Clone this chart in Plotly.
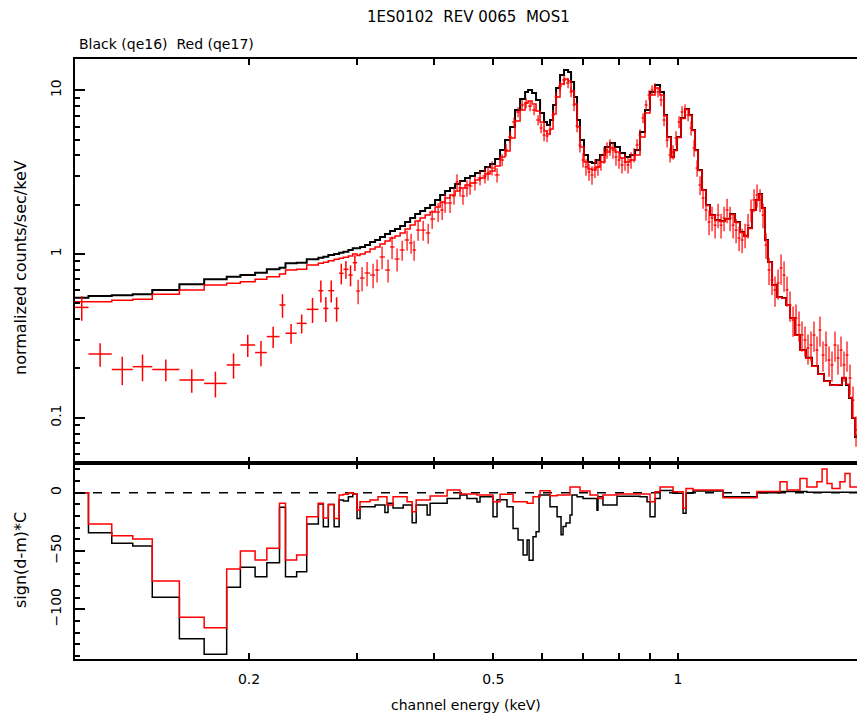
import numpy as np
import plotly.graph_objects as go

# ---------------- data ----------------
# coarse low-energy channel groups (keV): left edges + final edge
coarse_edges = [0.1041, 0.1095, 0.1195, 0.1293, 0.1391, 0.1540, 0.1690, 0.1839, 0.1936, 0.2046,
                0.2138, 0.2242, 0.2293, 0.2391, 0.2483, 0.2594, 0.2643, 0.2693, 0.2752, 0.2804,
                0.2850, 0.2903, 0.2951, 0.2999]
coarse_black_model = [0.541, 0.554, 0.559, 0.567, 0.603, 0.653, 0.700, 0.726, 0.744, 0.769,
                      0.806, 0.825, 0.877, 0.885, 0.928, 0.950, 0.963, 0.986, 1.000, 1.019,
                      1.033, 1.058, 1.083]
coarse_red_model = [0.511, 0.511, 0.521, 0.529, 0.567, 0.603, 0.647, 0.662, 0.677, 0.700,
                    0.726, 0.755, 0.798, 0.806, 0.857, 0.877, 0.889, 0.910, 0.928, 0.941,
                    0.955, 0.972, 1.000]
coarse_red_data = [0.472, 0.245, 0.197, 0.205, 0.197, 0.170, 0.162, 0.210, 0.278, 0.250,
                   0.313, 0.488, 0.328, 0.377, 0.459, 0.597, 0.465, 0.597, 0.465, 0.762,
                   0.806, 0.744, 0.885]
coarse_red_err = [0.081, 0.040, 0.039, 0.038, 0.030, 0.028, 0.029, 0.037, 0.043, 0.044,
                  0.046, 0.080, 0.045, 0.050, 0.080, 0.092, 0.081, 0.092, 0.079, 0.110,
                  0.099, 0.109, 0.097]
coarse_black_resid = [0, -34.3, -43.4, -45.7, -89.7, -125.2, -138.6, -81.1, -64.0, -72.0,
                      -60.0, -12.5, -72.0, -67.7, -26.8, -9.7, -29.2, -10.0, -29.2, -6.3,
                      -7.0, -3.4, -1.0]
coarse_red_resid = [0, -26.8, -36.9, -39.7, -75.7, -106.9, -115.8, -65.4, -50.0, -57.7,
                    -47.7, -9.1, -57.7, -53.4, -20.6, -9.1, -21.7, -10.0, -22.0, -2.0,
                    -1.4, 0.0, -1.0]

# fine channels above 0.3 keV: model left edges and values
fine_edges = [0.2999, 0.3033, 0.3091, 0.3149, 0.3209, 0.3269, 0.3331, 0.3395, 0.3458, 0.3525,
              0.3591, 0.3660, 0.3729, 0.3800, 0.3872, 0.3945, 0.4019, 0.4096, 0.4173, 0.4251,
              0.4333, 0.4413, 0.4497, 0.4582, 0.4669, 0.4757, 0.4848, 0.4939, 0.5033, 0.5129,
              0.5226, 0.5325, 0.5425, 0.5529, 0.5634, 0.5697, 0.5783, 0.5870, 0.5959, 0.6049,
              0.6117, 0.6186, 0.6257, 0.6328, 0.6423, 0.6520, 0.6619, 0.6694, 0.6770, 0.6846,
              0.6922, 0.7027, 0.7133, 0.7241, 0.7350, 0.7461, 0.7602, 0.7746, 0.7894, 0.8043,
              0.8196, 0.8351, 0.8509, 0.8671, 0.8835, 0.9002, 0.9173, 0.9347, 0.9488, 0.9596,
              0.9741, 0.9851, 0.9963, 1.0113, 1.0266, 1.0421, 1.0539, 1.0659, 1.0779, 1.0942,
              1.1107, 1.1275, 1.1490, 1.1707, 1.1929, 1.2155, 1.2384, 1.2618, 1.2810, 1.3002,
              1.3200, 1.3398, 1.3550, 1.3704, 1.3858, 1.4015, 1.4228, 1.4497, 1.4770, 1.4993,
              1.5221, 1.5508, 1.5801, 1.6158, 1.6527, 1.6904, 1.7291, 1.7684, 1.8087, 1.8499,
              1.8780, 1.8993, 1.9208, 1.9424]
last_edge = 1.98
fine_black_model = [1.083, 1.104, 1.135, 1.184, 1.218, 1.270, 1.325, 1.382, 1.421, 1.483,
                    1.569, 1.659, 1.755, 1.831, 1.910, 1.993, 2.138, 2.293, 2.426, 2.530,
                    2.677, 2.792, 2.912, 2.996, 3.125, 3.214, 3.400, 3.546, 3.805, 4.318,
                    4.970, 5.969, 7.580, 8.850, 9.763, 10.04, 9.627, 8.725, 7.265, 6.404,
                    6.138, 6.586, 8.133, 10.33, 12.40, 13.30, 12.93, 11.24, 9.100, 6.586,
                    4.970, 4.025, 3.648, 3.597, 3.752, 4.025, 4.504, 4.765, 4.504, 4.140,
                    3.913, 4.025, 4.318, 5.564, 7.580, 9.763, 10.78, 9.763, 7.066, 5.185,
                    3.913, 4.318, 5.185, 6.774, 7.688, 7.066, 5.722, 4.318, 3.261, 2.460,
                    1.993, 1.731, 1.613, 1.591, 1.636, 1.755, 1.569, 1.362, 1.288, 1.441,
                    1.857, 2.138, 2.326, 1.910, 1.218, 0.894, 0.647, 0.546, 0.539, 0.488,
                    0.406, 0.320, 0.259, 0.232, 0.207, 0.185, 0.1675, 0.1584, 0.1584, 0.1748,
                    0.1584, 0.1319, 0.0996, 0.0762]
fine_red_model = [0.980, 1.000, 1.029, 1.073, 1.104, 1.151, 1.200, 1.252, 1.288, 1.344,
                  1.421, 1.504, 1.591, 1.659, 1.731, 1.805, 1.937, 2.078, 2.198, 2.293,
                  2.426, 2.530, 2.640, 2.715, 2.832, 2.912, 3.081, 3.214, 3.448, 3.913,
                  4.258, 5.113, 6.494, 7.580, 8.362, 8.603, 8.250, 7.474, 6.404, 5.641,
                  5.410, 5.802, 7.166, 9.100, 10.93, 11.72, 11.40, 9.902, 8.250, 5.969,
                  4.504, 3.648, 3.305, 3.261, 3.400, 3.648, 4.198, 4.441, 4.198, 3.858,
                  3.648, 3.752, 4.025, 5.185, 7.265, 9.36, 10.33, 9.36, 7.00, 5.15,
                  3.89, 4.29, 5.15, 6.73, 7.64, 7.02, 5.69, 4.29, 3.24, 2.45,
                  1.98, 1.72, 1.60, 1.58, 1.63, 1.74, 1.56, 1.355, 1.28, 1.43,
                  1.85, 2.13, 2.31, 1.90, 1.21, 0.89, 0.645, 0.545, 0.537, 0.487,
                  0.405, 0.319, 0.258, 0.231, 0.206, 0.184, 0.167, 0.158, 0.159, 0.176,
                  0.160, 0.133, 0.100, 0.078]

# red (qe17) data points above 0.3 keV
red_E = [0.3011, 0.3056, 0.3114, 0.3185, 0.3233, 0.3294, 0.3369, 0.3420, 0.3485, 0.3552,
         0.3618, 0.3673, 0.3715, 0.3771, 0.3843, 0.3916, 0.3975, 0.4065, 0.4127, 0.4173,
         0.4251, 0.4315, 0.4364, 0.4413, 0.4463, 0.4530, 0.4582, 0.4668, 0.4757, 0.4847,
         0.4902, 0.4976, 0.5071, 0.5168, 0.5245, 0.5325, 0.5405, 0.5487, 0.5571, 0.5655,
         0.5740, 0.5827, 0.5915, 0.5982, 0.6049, 0.6117, 0.6186, 0.6257, 0.6328, 0.6423,
         0.6520, 0.6619, 0.6694, 0.6770, 0.6846, 0.6922, 0.7001, 0.7080, 0.7160, 0.7241,
         0.7322, 0.7405, 0.7489, 0.7574, 0.7660, 0.7746, 0.7834, 0.7923, 0.8013, 0.8104,
         0.8196, 0.8289, 0.8383, 0.8478, 0.8574, 0.8671, 0.8769, 0.8869, 0.8969, 0.9071,
         0.9173, 0.9277, 0.9382, 0.9488, 0.9596, 0.9704, 0.9814, 0.9925, 1.0038, 1.0151,
         1.0266, 1.0383, 1.0500, 1.0619, 1.0740, 1.0860, 1.0984, 1.1107, 1.1233, 1.1360,
         1.1490, 1.1620, 1.1751, 1.1884, 1.2019, 1.2155, 1.2293, 1.2432, 1.2573, 1.2716,
         1.2858, 1.3002, 1.3150, 1.3299, 1.3449, 1.3600, 1.3756, 1.3910, 1.4068, 1.4228,
         1.4388, 1.4552, 1.4716, 1.4883, 1.5051, 1.5221, 1.5394, 1.5567, 1.5743, 1.5921,
         1.6100, 1.6283, 1.6467, 1.6653, 1.6842, 1.7031, 1.7225, 1.7420, 1.7618, 1.7817,
         1.8019, 1.8223, 1.8429, 1.8638, 1.8849, 1.9063, 1.9278, 1.9497]
red_val = [0.594, 0.713, 0.765, 0.744, 0.798, 0.959, 0.798, 1.104, 0.932, 1.058,
           1.218, 1.167, 1.058, 1.40, 1.40, 1.344, 1.636, 1.805, 1.857, 2.049,
           2.049, 2.261, 2.754, 2.530, 2.261, 2.530, 2.603, 2.715, 2.912, 2.996,
           3.125, 3.353, 3.04, 3.75, 4.318, 5.185, 6.404, 7.37, 8.133, 8.362,
           8.017, 7.58, 6.586, 5.886, 5.33, 5.258, 5.722, 7.066, 9.100, 10.62,
           11.56, 11.08, 9.763, 8.133, 6.052, 4.63, 3.75, 3.400, 3.169, 3.04,
           3.353, 3.400, 3.648, 4.025, 4.318, 4.504, 4.318, 3.913, 3.75, 3.50,
           3.648, 3.50, 3.75, 4.025, 4.63, 5.33, 6.774, 8.133, 9.36, 10.04,
           10.33, 9.763, 8.725, 6.586, 4.970, 4.025, 4.198, 5.113, 6.404, 7.37,
           7.58, 7.066, 5.886, 4.441, 3.353, 2.64, 2.198, 1.857, 1.569, 1.659,
           1.50, 1.73, 1.50, 1.659, 1.857, 1.659, 1.50, 1.40, 1.252, 1.218,
           1.306, 1.50, 1.857, 2.14, 2.293, 2.14, 1.73, 1.135, 0.798, 0.694,
           0.603, 0.665, 0.821, 0.744, 0.603, 0.488, 0.395, 0.406, 0.368, 0.320,
           0.298, 0.2666, 0.278, 0.320, 0.259, 0.343, 0.2415, 0.278, 0.225, 0.210,
           0.278, 0.2316, 0.259, 0.210, 0.2415, 0.1748, 0.128, 0.0841]
red_relerr = [0.17, 0.17, 0.17, 0.17, 0.16, 0.16, 0.16, 0.16, 0.16, 0.14,
              0.14, 0.14, 0.14, 0.14, 0.14, 0.14, 0.13, 0.13, 0.13, 0.13,
              0.13, 0.115, 0.115, 0.115, 0.115, 0.115, 0.115, 0.10, 0.10, 0.10,
              0.10, 0.10, 0.10, 0.085, 0.085, 0.085, 0.07, 0.07, 0.07, 0.07,
              0.07, 0.07, 0.07, 0.07, 0.085, 0.085, 0.07, 0.07, 0.07, 0.07,
              0.07, 0.07, 0.07, 0.085, 0.085, 0.10, 0.10, 0.115, 0.115, 0.13,
              0.13, 0.115, 0.115, 0.115, 0.115, 0.115, 0.115, 0.115, 0.115, 0.115,
              0.115, 0.115, 0.115, 0.10, 0.085, 0.085, 0.07, 0.07, 0.07, 0.07,
              0.07, 0.07, 0.085, 0.085, 0.10, 0.10, 0.10, 0.10, 0.085, 0.085,
              0.085, 0.085, 0.10, 0.115, 0.115, 0.13, 0.14, 0.14, 0.17, 0.17,
              0.17, 0.17, 0.17, 0.17, 0.17, 0.17, 0.17, 0.17, 0.17, 0.17,
              0.17, 0.17, 0.16, 0.16, 0.16, 0.16, 0.17, 0.18, 0.19, 0.19,
              0.21, 0.21, 0.21, 0.21, 0.21, 0.21, 0.21, 0.21, 0.21, 0.21,
              0.21, 0.21, 0.21, 0.21, 0.21, 0.21, 0.21, 0.21, 0.21, 0.21,
              0.21, 0.21, 0.21, 0.21, 0.21, 0.21, 0.21, 0.21]

# residuals sign(d-m)*C above 0.3 keV (left edges, values)
black_res_edges = [0.2999, 0.3033, 0.3209, 0.3330, 0.3369, 0.3433, 0.3566, 0.3688, 0.3744, 0.3901,
                   0.3945, 0.4205, 0.4413, 0.4530, 0.4703, 0.4757, 0.4995, 0.5071, 0.5264, 0.5385,
                   0.5487, 0.5592, 0.5676, 0.5719, 0.5805, 0.5871, 0.5937, 0.6186, 0.6352, 0.6447,
                   0.6496, 0.6569, 0.6668, 0.6718, 0.6846, 0.7001, 0.7377, 0.7405, 0.7545, 0.7953,
                   0.8671, 0.8902, 0.9002, 0.9173, 0.9347, 0.9814, 1.0190, 1.0305, 1.0579, 1.1840,
                   1.3449, 1.4660, 1.6218]
black_res_vals = [-22, -12, -10.6, -17, -9, -13, -10.6, -25.7, -10.6, -19,
                  -9, -5, -2, -5, -8, -3.5, -20.6, -6, -12, -30.6,
                  -40.6, -53.5, -40.6, -57.8, -37.7, -33.5, -2, -12, -20.6, -36,
                  -29, -26, -19, -2, -3.4, -4.9, -15, -3.4, -10.6, -3,
                  -3.4, -7.7, -20.6, -4.9, 2, -0.5, -17.7, -0.5, 1.4, -3.4,
                  0, 1, 0.5]
red_res_edges = [0.2999, 0.3033, 0.3149, 0.3245, 0.3355, 0.3433, 0.3618, 0.3688, 0.3744, 0.3945,
                 0.4205, 0.4413, 0.4703, 0.4995, 0.5129, 0.5385, 0.5676, 0.5805, 0.5959, 0.6186,
                 0.6352, 0.6668, 0.6922, 0.7187, 0.7405, 0.7545, 0.7953, 0.9002, 0.9173, 0.9347,
                 0.9814, 1.0190, 1.0305, 1.0579, 1.1840, 1.3449, 1.4660, 1.5051, 1.5801, 1.6218,
                 1.6838, 1.7167, 1.7487, 1.7817, 1.8360, 1.8708, 1.9063]
red_res_vals = [-15, -7.7, -6.3, -3.4, -10.6, -3.4, -7.7, -16.3, -6.3, -2.9,
                2.3, -1, -2, -7.7, -1.2, -7.7, -9, -3.4, 1.7, -2.5,
                -2, 5, 1.4, -2, -4.9, -2, -1, -7.7, 0.9, 5,
                0.9, -13.4, 3.7, 2.3, -4.3, 1, 9.4, 2.3, 12.3, 5,
                9.4, 20.3, 8, 3.7, 9.4, 16.6, 5]

title_text = "1ES0102\u00a0\u00a0REV 0065\u00a0\u00a0MOS1"
legend_text = "Black (qe16)\u00a0\u00a0Red (qe17)"
ytitle_top = "normalized counts/sec/keV"
ytitle_bot = "sign(d-m)*C"
xtitle = "channel energy (keV)"

assert len(fine_edges) == len(fine_black_model) == len(fine_red_model)
assert len(red_E) == len(red_val) == len(red_relerr), (len(red_E), len(red_val), len(red_relerr))
assert len(black_res_edges) == len(black_res_vals)
assert len(red_res_edges) == len(red_res_vals)


def step(edges_lo, vals, end):
    x = list(edges_lo) + [end]
    y = list(vals) + [vals[-1]]
    return x, y


# ---------------- figure ----------------
fig = go.Figure()

bx, by = step(coarse_edges[:-1] + fine_edges, coarse_black_model + fine_black_model, last_edge)
rx, ry = step(coarse_edges[:-1] + fine_edges, coarse_red_model + fine_red_model, last_edge)

fig.add_trace(go.Scatter(x=bx, y=by, mode="lines", line=dict(color="black", width=2, shape="hv"),
                         xaxis="x2", yaxis="y2", hoverinfo="skip"))
fig.add_trace(go.Scatter(x=rx, y=ry, mode="lines", line=dict(color="red", width=1.5, shape="hv"),
                         xaxis="x2", yaxis="y2", hoverinfo="skip"))

# coarse red data crosses
ce = np.array(coarse_edges)
cc = np.sqrt(ce[:-1] * ce[1:])
fig.add_trace(go.Scatter(
    x=cc, y=coarse_red_data, mode="markers", marker=dict(size=1, color="red"),
    error_x=dict(type="data", symmetric=False, array=ce[1:] - cc, arrayminus=cc - ce[:-1],
                 color="red", thickness=1.5, width=0),
    error_y=dict(type="data", array=coarse_red_err, color="red", thickness=1.5, width=0),
    xaxis="x2", yaxis="y2", hoverinfo="skip"))

# fine red data crosses
rE = np.array(red_E)
bnd = np.sqrt(rE[:-1] * rE[1:])
lo = np.concatenate([[rE[0] ** 2 / bnd[0]], bnd])
hi = np.concatenate([bnd, [rE[-1] ** 2 / bnd[-1]]])
rv = np.array(red_val)
fig.add_trace(go.Scatter(
    x=rE, y=rv, mode="markers", marker=dict(size=1, color="red"),
    error_x=dict(type="data", symmetric=False, array=hi - rE, arrayminus=rE - lo,
                 color="red", thickness=1.2, width=0),
    error_y=dict(type="data", array=rv * np.array(red_relerr), color="red", thickness=1.2, width=0),
    xaxis="x2", yaxis="y2", hoverinfo="skip"))

# residuals
kx, ky = step(coarse_edges[:-1] + black_res_edges, coarse_black_resid + black_res_vals, last_edge)
qx, qy = step(coarse_edges[:-1] + red_res_edges, coarse_red_resid + red_res_vals, last_edge)
fig.add_trace(go.Scatter(x=kx, y=ky, mode="lines", line=dict(color="black", width=1.5, shape="hv"),
                         xaxis="x", yaxis="y", hoverinfo="skip"))
fig.add_trace(go.Scatter(x=qx, y=qy, mode="lines", line=dict(color="red", width=1.5, shape="hv"),
                         xaxis="x", yaxis="y", hoverinfo="skip"))

FONT = dict(family="DejaVu Sans", size=14, color="black")
TITLE_FONT = dict(family="DejaVu Sans", size=15, color="black")
YT_FONT = dict(family="DejaVu Sans", size=16, color="black")
split = 196 / 600.0
xrange_log = [np.log10(0.1041), np.log10(1.9569)]
xmajor = [0.2, 0.5, 1]
xminor = [0.3, 0.4, 0.6, 0.7, 0.8, 0.9]

common_x = dict(type="log", range=xrange_log, showgrid=False, zeroline=False,
                showline=True, linecolor="black", linewidth=2, mirror="ticks",
                ticks="inside", ticklen=6, tickwidth=1.5, tickcolor="black",
                tickvals=xmajor, ticktext=["0.2", "0.5", "1"],
                minor=dict(tickmode="array", tickvals=xminor, ticks="inside", ticklen=6,
                           tickwidth=1.5, tickcolor="black", showgrid=False),
                tickfont=FONT)

ytop_minor = [0.06, 0.07, 0.08, 0.09, 0.2, 0.3, 0.4, 0.5, 0.6, 0.7, 0.8, 0.9,
              2, 3, 4, 5, 6, 7, 8, 9]

fig.update_layout(
    width=857, height=719, autosize=False,
    margin=dict(l=75, r=0, t=59, b=60),
    paper_bgcolor="white", plot_bgcolor="white",
    showlegend=False, font=FONT,
    xaxis=dict(common_x, domain=[0, 1], anchor="y", ticklabelstandoff=6),
    xaxis2=dict(common_x, domain=[0, 1], anchor="y2", matches="x", showticklabels=False),
    yaxis=dict(domain=[0, split], anchor="x", range=[-142.6, 25.5], showgrid=False, zeroline=False,
               showline=True, linecolor="black", linewidth=2, mirror=False,
               ticks="inside", ticklen=10, tickwidth=1.5, tickcolor="black",
               tickvals=[-100, -50, 0], ticktext=["\u2212100", "\u221250", "0"],
               tickangle=-90, tickfont=FONT, ticklabelstandoff=6,
               minor=dict(dtick=10, ticks="inside", ticklen=5, tickwidth=1.5,
                          tickcolor="black", showgrid=False)),
    yaxis2=dict(domain=[split, 1], anchor="x2", type="log", range=[-1.2767, 1.1912],
                showgrid=False, zeroline=False, showline=True, linecolor="black",
                linewidth=2, mirror=False, ticks="inside", ticklen=10, tickwidth=1.5,
                tickcolor="black", tickvals=[0.1, 1, 10], ticktext=["0.1", "1", "10"],
                tickangle=-90, tickfont=FONT, ticklabelstandoff=6,
                minor=dict(tickmode="array", tickvals=ytop_minor, ticks="inside", ticklen=5,
                           tickwidth=1.5, tickcolor="black", showgrid=False)),
    shapes=[
        dict(type="line", xref="paper", yref="y", x0=0, x1=1, y0=0, y1=0,
             line=dict(color="black", width=1.5, dash="dash"), layer="below"),
        dict(type="line", xref="paper", yref="paper", x0=0, x1=1, y0=split, y1=split,
             line=dict(color="black", width=3.5)),
    ],
    annotations=[
        dict(text=title_text, xref="paper", yref="paper", x=(468 - 75) / 782, y=(659 - 17) / 600,
             xanchor="center", yanchor="middle", showarrow=False, font=TITLE_FONT),
        dict(text=legend_text, xref="paper", yref="paper", x=(77 - 75) / 782, y=(659 - 44) / 600,
             xanchor="left", yanchor="middle", showarrow=False, font=FONT),
        dict(text=ytitle_top, xref="paper", yref="paper", x=(20 - 75) / 782, y=(659 - 268) / 600,
             xanchor="center", yanchor="middle", textangle=-90, showarrow=False, font=YT_FONT),
        dict(text=ytitle_bot, xref="paper", yref="paper", x=(20 - 75) / 782, y=(659 - 560) / 600,
             xanchor="center", yanchor="middle", textangle=-90, showarrow=False, font=YT_FONT),
        dict(text=xtitle, xref="paper", yref="paper", x=(466 - 75) / 782, y=(659 - 705) / 600,
             xanchor="center", yanchor="middle", showarrow=False, font=FONT),
    ],
)

fig.write_html("out.html")
